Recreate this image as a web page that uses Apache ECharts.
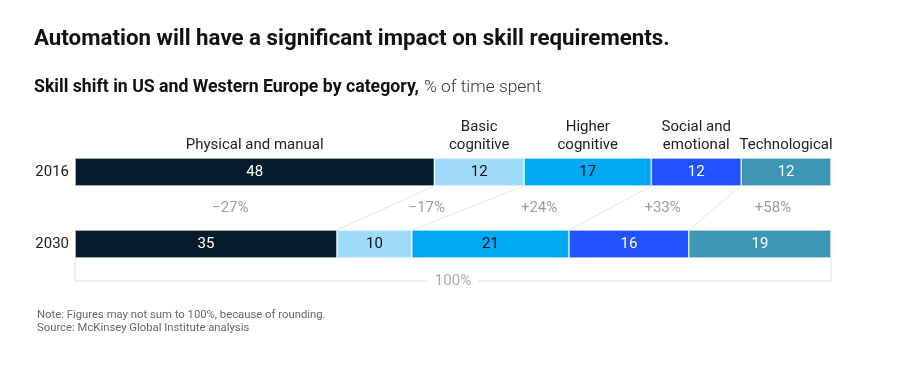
<!DOCTYPE html>
<html><head><meta charset="utf-8">
<script src="https://cdn.jsdelivr.net/npm/echarts@6/dist/echarts.min.js"></script>
<style>html,body{margin:0;padding:0;background:#fff}#c{width:899px;height:371px}</style>
</head><body><div id="c"></div>
<script>
const years = ['2016', '2030'];
const categories = ['Physical and manual', 'Basic\ncognitive', 'Higher\ncognitive', 'Social and\nemotional', 'Technological'];
const values2016 = [48, 12, 17, 12, 12];
const values2030 = [35, 10, 21, 16, 19];
const changes = ['\u221227%', '\u221217%', '+24%', '+33%', '+58%'];
const totalLabel = '100%';
const colors = ['#051c2c', '#9fdcf9', '#00a9f4', '#2251ff', '#3c96b4'];
const textColors = ['#ffffff', '#111111', '#111111', '#ffffff', '#ffffff'];

const FONT = 'Roboto, "Liberation Sans", Arial, sans-serif';
const total = values2016.reduce((a, b) => a + b, 0);
const cum16 = [0], cum30 = [0];
values2016.forEach((v, i) => cum16.push(cum16[i] + v));
values2030.forEach((v, i) => cum30.push(cum30[i] + v));
const BAR = 28;

const barSeries = categories.map((c, i) => ({
  name: c, type: 'bar', stack: 'all', barWidth: BAR,
  data: [values2016[i], values2030[i]],
  itemStyle: { color: colors[i], borderColor: '#ffffff', borderWidth: 0.6 },
  label: { show: true, position: 'inside', color: textColors[i], fontSize: 15, fontFamily: FONT },
  z: 3
}));

const annotSeries = {
  type: 'custom', z: 2, silent: true,
  data: categories.map((c, i) => [i]),
  renderItem: function (params, api) {
    const i = api.value(0);
    const children = [];
    const a0 = api.coord([cum16[i], 0]), a1 = api.coord([cum16[i + 1], 0]);
    const b0 = api.coord([cum30[i], 1]), b1 = api.coord([cum30[i + 1], 1]);
    const topBottom = a0[1] + BAR / 2, botTop = b0[1] - BAR / 2;
    children.push({ type: 'text', style: { text: categories[i], x: (a0[0] + a1[0]) / 2, y: a0[1] - BAR / 2 - 4,
      align: 'center', verticalAlign: 'bottom', fill: '#222', font: '15px ' + FONT, lineHeight: 18 } });
    children.push({ type: 'text', style: { text: changes[i], x: ((a0[0] + a1[0]) / 2 + (b0[0] + b1[0]) / 2) / 2,
      y: (topBottom + botTop) / 2, align: 'center', verticalAlign: 'middle', fill: '#9d9d9d', font: '15px ' + FONT } });
    if (i < categories.length - 1) {
      children.push({ type: 'line', shape: { x1: a1[0], y1: topBottom, x2: b1[0], y2: botTop },
        style: { stroke: '#e6e6e6', lineWidth: 1 } });
    }
    if (i === 0) {
      const s = api.coord([0, 1]), e = api.coord([cum30[cum30.length - 1], 1]);
      const y0 = s[1] + BAR / 2, yb = y0 + 23;
      const mid = (s[0] + e[0]) / 2;
      children.push({ type: 'polyline', shape: { points: [[s[0], y0], [s[0], yb], [mid - 25, yb]] }, style: { stroke: '#e3e3e3', lineWidth: 1, fill: null } });
      children.push({ type: 'polyline', shape: { points: [[mid + 25, yb], [e[0], yb], [e[0], y0]] }, style: { stroke: '#e3e3e3', lineWidth: 1, fill: null } });
      children.push({ type: 'text', style: { text: totalLabel, x: mid, y: yb, align: 'center', verticalAlign: 'middle', fill: '#aaaaaa', font: '15px ' + FONT } });
    }
    return { type: 'group', children: children };
  }
};

const chart = echarts.init(document.getElementById('c'), null, { renderer: 'canvas' });
chart.setOption({
  animation: false,
  title: [
    { text: 'Automation will have a significant impact on skill requirements.', left: 34, top: 28, padding: 0,
      textStyle: { fontFamily: FONT, fontSize: 22.3, fontWeight: 'bold', color: '#111' } },
    { text: '{b|Skill shift in US and Western Europe by category,} {n|% of time spent}', left: 34, top: 79, padding: 0,
      textStyle: { rich: { b: { fontFamily: FONT, fontSize: 17.7, fontWeight: 'bold', color: '#111' }, n: { fontFamily: FONT, fontSize: 17.4, fontWeight: 300, color: '#333' } } } }
  ],
  graphic: [
    { type: 'text', left: 37, top: 309, style: { text: 'Note: Figures may not sum to 100%, because of rounding.\nSource: McKinsey Global Institute analysis', fill: '#666', font: '11.3px ' + FONT, lineHeight: 13 } }
  ],
  grid: { left: 75, right: 68, top: 136, bottom: 91 },
  xAxis: { type: 'value', min: 0, max: total, show: false },
  yAxis: { type: 'category', data: years, inverse: true, axisLine: { show: false }, axisTick: { show: false },
    axisLabel: { color: '#222', fontSize: 15, fontFamily: FONT, margin: 6 } },
  series: barSeries.concat([annotSeries])
});
</script></body></html>
